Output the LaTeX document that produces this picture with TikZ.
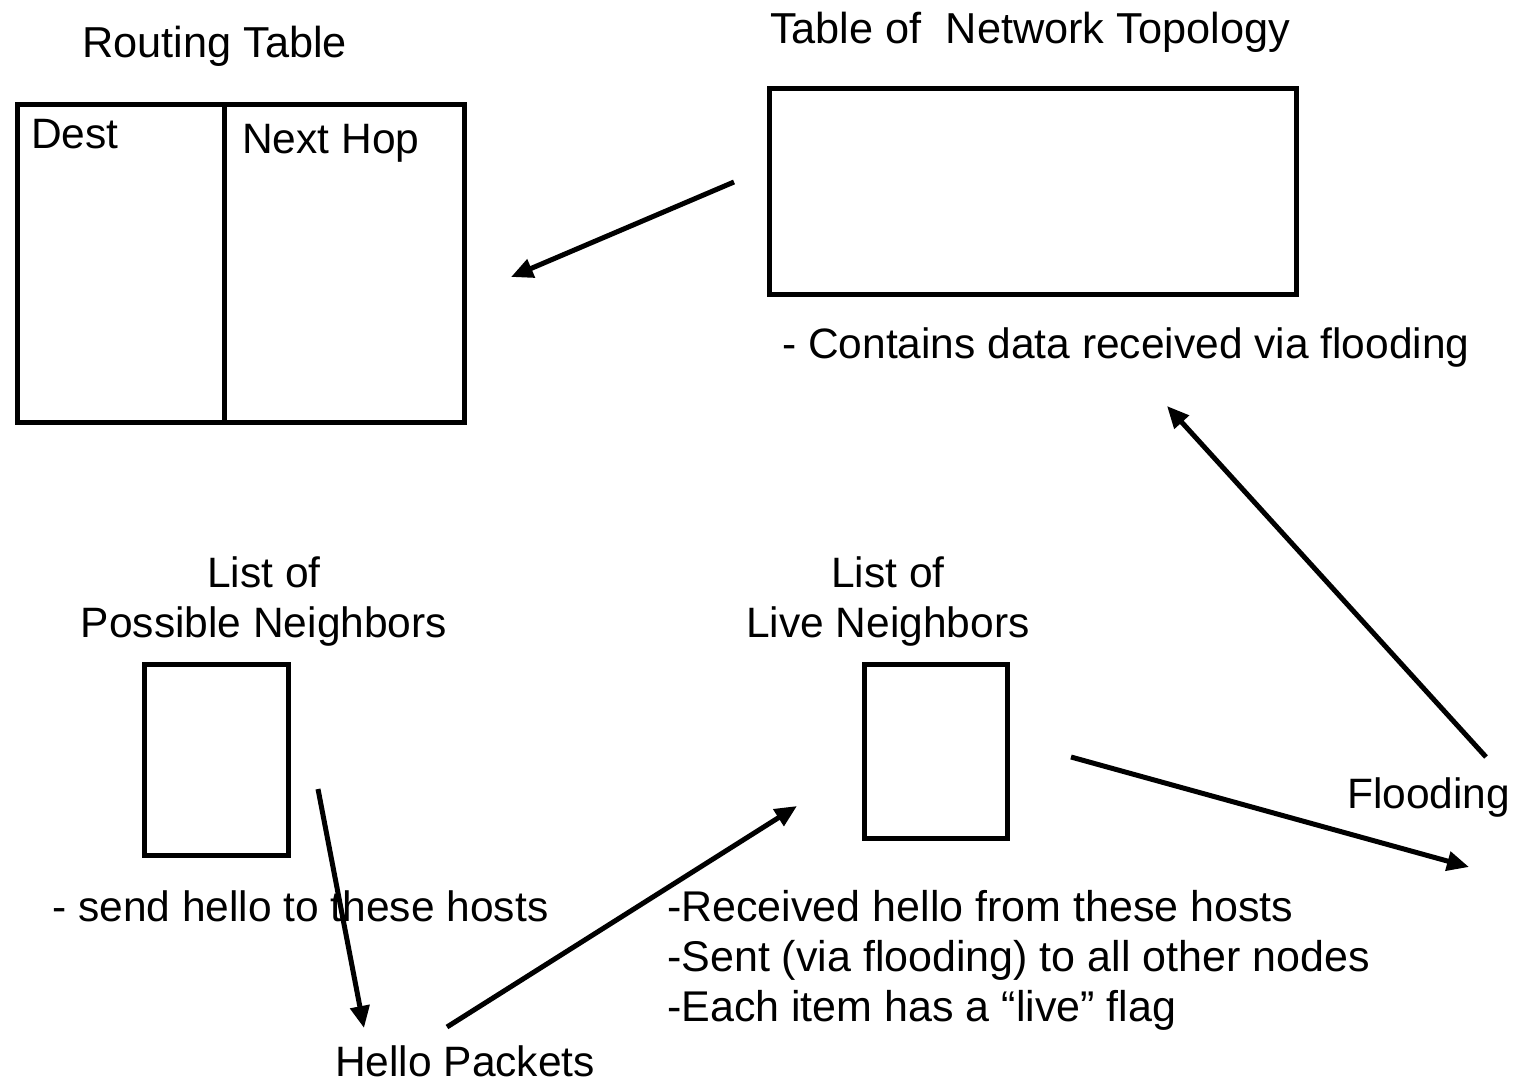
\documentclass[tikz,border=0pt]{standalone}
\usepackage{fontspec}
\setmainfont{Liberation Sans}
\usetikzlibrary{arrows.meta}
\begin{document}
\begin{tikzpicture}[x=1pt,y=-1pt,
  box/.style={draw, line width=5pt, inner sep=0pt, anchor=north west},
  lbl/.style={inner sep=0pt, font=\fontsize{42.5}{50}\selectfont},
  bigger/.style={font=\fontsize{43.3}{50}\selectfont},
  flow/.style={line width=5pt, -{Triangle[length=22pt,width=19pt]}}]
\useasboundingbox[fill=white] (0,0) rectangle (1528,1081);

% routing table: two columns
\node[box, minimum width=207.5pt, minimum height=318pt] (dest) at (14.5,101.5) {};
\node[box, minimum width=239.5pt, minimum height=318pt] (hop) at (222,101.5) {};
\node[lbl, bigger, anchor=base] (rttitle) at (214.5,57) {Routing Table};
\node[lbl, anchor=base west] (desttxt) at (31,148) {Dest};
\node[lbl, anchor=base west] (hoptxt) at (242,153) {Next Hop};

% network topology table
\node[box, minimum width=527pt, minimum height=206pt] (topo) at (767,86) {};
\node[lbl, bigger, anchor=base] (topotitle) at (1030,44) {Table of\ \ Network Topology};
\node[lbl, anchor=base west] (toponote) at (782,358) {- Contains data received via flooding};

% neighbour lists (multi-line nodes sit on their last baseline)
\node[box, minimum width=144pt, minimum height=191pt] (poss) at (142,662) {};
\node[lbl, anchor=base, align=center] (posstitle) at (264,637) {List of\\Possible Neighbors};
\node[lbl, anchor=base west] (possnote) at (52,921) {- send hello to these hosts};

\node[box, minimum width=143pt, minimum height=174pt] (live) at (862,662) {};
\node[lbl, anchor=base, align=center] (livetitle) at (888,637) {List of\\Live Neighbors};
\node[lbl, anchor=base west, align=left, font=\fontsize{43}{50}\selectfont] (livenote) at (667,1021)
  {-Received hello from these hosts\\-Sent (via flooding) to all other nodes\\-Each item has a “live” flag};

\node[lbl, anchor=base] (hello) at (465,1076) {Hello Packets};
\node[lbl, anchor=base west] (flood) at (1347,808) {Flooding};

% arrow end points
\coordinate (t2r) at (734,182);  \coordinate (r) at (511,277);
\coordinate (p2h) at (318,789);  \coordinate (h) at (364,1028);
\coordinate (h2l) at (447,1027); \coordinate (l) at (797,806);
\coordinate (l2f) at (1071,757); \coordinate (f) at (1469,867);
\coordinate (f2t) at (1486,757); \coordinate (t) at (1167,406);

\draw[flow] (t2r) -- (r);
\draw[flow] (p2h) -- (h);
\draw[flow] (h2l) -- (l);
\draw[flow] (l2f) -- (f);
\draw[flow] (f2t) -- (t);
\end{tikzpicture}
\end{document}
